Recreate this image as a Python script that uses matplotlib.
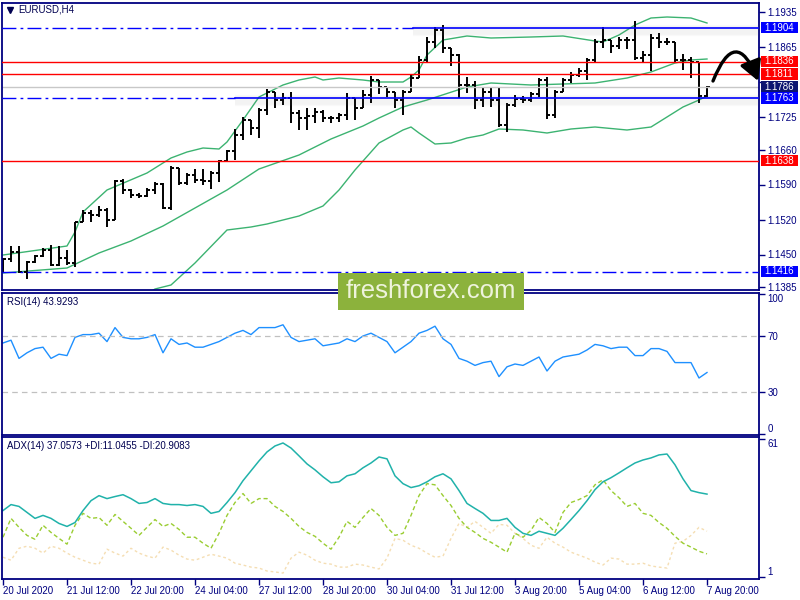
import numpy as np
import matplotlib
matplotlib.use("Agg")
import matplotlib.pyplot as plt
from matplotlib.collections import LineCollection
from matplotlib.patches import Rectangle, FancyArrowPatch
from matplotlib.lines import Line2D
from matplotlib.transforms import blended_transform_factory, offset_copy

plt.rcParams['font.family'] = ['Liberation Sans', 'DejaVu Sans']
plt.rcParams['lines.scale_dashes'] = False

symbol = "EURUSD,H4"

# H4 bars, 20 Jul 04:00 .. 7 Aug 20:00 (index 0..88)
opens = [1.1423, 1.1441, 1.1455, 1.1415, 1.1435, 1.1447, 1.1459, 1.1429, 1.1443, 1.1433,
         1.1515, 1.1533, 1.1529, 1.1539, 1.1519, 1.1597, 1.1579, 1.1569, 1.1567, 1.1579,
         1.1591, 1.1543, 1.1623, 1.1593, 1.1609, 1.1599, 1.1597, 1.1613, 1.1637, 1.1657,
         1.1689, 1.1719, 1.1703, 1.1739, 1.1775, 1.1759, 1.1763, 1.1733, 1.1723, 1.1727,
         1.1735, 1.1723, 1.1723, 1.1729, 1.1763, 1.1743, 1.1769, 1.1799, 1.1785, 1.1775,
         1.1759, 1.1775, 1.1803, 1.1839, 1.1875, 1.1899, 1.1863, 1.1849, 1.1789, 1.1789,
         1.1759, 1.1775, 1.1759, 1.1709, 1.1749, 1.1761, 1.1759, 1.1771, 1.1799, 1.1729,
         1.1775, 1.1799, 1.1809, 1.1817, 1.1839, 1.1875, 1.1879, 1.1867, 1.1879, 1.1879,
         1.1843, 1.1849, 1.1883, 1.1875, 1.1875, 1.1839, 1.1839, 1.1835, 1.1767]
highs = [1.1443, 1.1467, 1.1467, 1.1437, 1.1449, 1.1463, 1.1469, 1.1467, 1.1459, 1.1515,
         1.1539, 1.1539, 1.1547, 1.1543, 1.1599, 1.1601, 1.1581, 1.1573, 1.1583, 1.1595,
         1.1593, 1.1627, 1.1623, 1.1613, 1.1621, 1.1621, 1.1617, 1.1639, 1.1659, 1.1701,
         1.1725, 1.1719, 1.1743, 1.1781, 1.1775, 1.1773, 1.1775, 1.1739, 1.1743, 1.1743,
         1.1739, 1.1727, 1.1733, 1.1773, 1.1763, 1.1779, 1.1807, 1.1799, 1.1785, 1.1775,
         1.1779, 1.1809, 1.1847, 1.1885, 1.1905, 1.1909, 1.1863, 1.1851, 1.1805, 1.1797,
         1.1783, 1.1783, 1.1783, 1.1753, 1.1769, 1.1767, 1.1775, 1.1803, 1.1805, 1.1779,
         1.1803, 1.1815, 1.1823, 1.1843, 1.1881, 1.1905, 1.1879, 1.1885, 1.1885, 1.1917,
         1.1857, 1.1891, 1.1893, 1.1883, 1.1875, 1.1851, 1.1845, 1.1835, 1.1787]
lows = [1.1413, 1.1435, 1.1413, 1.1401, 1.1433, 1.1445, 1.1427, 1.1427, 1.1429, 1.1425,
        1.1515, 1.1515, 1.1525, 1.1505, 1.1519, 1.1571, 1.1563, 1.1563, 1.1565, 1.1571,
        1.1541, 1.1539, 1.1589, 1.1589, 1.1593, 1.1589, 1.1581, 1.1595, 1.1635, 1.1639,
        1.1679, 1.1689, 1.1683, 1.1729, 1.1743, 1.1749, 1.1713, 1.1699, 1.1699, 1.1713,
        1.1715, 1.1713, 1.1715, 1.1719, 1.1719, 1.1743, 1.1753, 1.1771, 1.1765, 1.1743,
        1.1729, 1.1775, 1.1803, 1.1835, 1.1863, 1.1853, 1.1827, 1.1763, 1.1773, 1.1741,
        1.1745, 1.1745, 1.1705, 1.1695, 1.1745, 1.1753, 1.1755, 1.1765, 1.1721, 1.1723,
        1.1775, 1.1793, 1.1805, 1.1799, 1.1833, 1.1863, 1.1853, 1.1861, 1.1861, 1.1839,
        1.1833, 1.1817, 1.1863, 1.1869, 1.1833, 1.1819, 1.1803, 1.1753, 1.1765]
closes = [1.1441, 1.1455, 1.1415, 1.1435, 1.1447, 1.1459, 1.1429, 1.1443, 1.1433, 1.1515,
          1.1533, 1.1529, 1.1539, 1.1519, 1.1597, 1.1579, 1.1569, 1.1567, 1.1579, 1.1591,
          1.1543, 1.1623, 1.1593, 1.1609, 1.1599, 1.1597, 1.1613, 1.1637, 1.1657, 1.1689,
          1.1719, 1.1703, 1.1739, 1.1775, 1.1759, 1.1763, 1.1733, 1.1723, 1.1727, 1.1735,
          1.1723, 1.1723, 1.1729, 1.1763, 1.1743, 1.1769, 1.1799, 1.1785, 1.1775, 1.1759,
          1.1775, 1.1803, 1.1839, 1.1875, 1.1899, 1.1863, 1.1849, 1.1789, 1.1789, 1.1759,
          1.1775, 1.1759, 1.1709, 1.1749, 1.1761, 1.1759, 1.1771, 1.1799, 1.1729, 1.1775,
          1.1799, 1.1809, 1.1817, 1.1839, 1.1875, 1.1879, 1.1867, 1.1879, 1.1879, 1.1843,
          1.1849, 1.1883, 1.1875, 1.1875, 1.1839, 1.1839, 1.1835, 1.1767, 1.1786]

# Bollinger bands, read at some bars
bb_up_idx = [0, 8, 9, 10, 13, 18, 21, 23, 25, 27, 28, 30, 32, 35, 37, 39, 40, 42, 45, 47,
             50, 51, 52, 53, 55, 58, 61, 66, 70, 74, 75, 77, 79, 81, 83, 86, 88]
bb_up = [1.1449, 1.1467, 1.1495, 1.1535, 1.1579, 1.1613, 1.1643, 1.1655, 1.1663, 1.1661,
         1.1675, 1.1719, 1.1765, 1.1789, 1.1799, 1.1805, 1.1799, 1.1803, 1.1799, 1.1795,
         1.1795, 1.1805, 1.1819, 1.1849, 1.1879, 1.1887, 1.1883, 1.1885, 1.1887, 1.1877,
         1.1875, 1.1889, 1.1909, 1.1923, 1.1925, 1.1923, 1.1913]
bb_mid_idx = [0, 8, 12, 16, 20, 24, 28, 32, 37, 41, 45, 47, 50, 53, 58, 61, 66, 70, 74,
              78, 81, 84, 86, 88]
bb_mid = [1.1413, 1.1423, 1.1453, 1.1477, 1.1507, 1.1543, 1.1579, 1.1621, 1.1649, 1.1681,
          1.1707, 1.1723, 1.1745, 1.1759, 1.1785, 1.1793, 1.1789, 1.1791, 1.1793, 1.1803,
          1.1815, 1.1833, 1.1839, 1.1841]
bb_low_idx = [17, 19, 21, 24, 28, 31, 33, 37, 40, 42, 44, 47, 50, 51, 52, 54, 56, 58, 60,
              62, 65, 68, 71, 74, 78, 81, 83, 85, 87, 88]
bb_low = [1.1360, 1.1381, 1.1389, 1.1433, 1.1499, 1.1505, 1.1511, 1.1527, 1.1547, 1.1579,
          1.1619, 1.1673, 1.1699, 1.1705, 1.1693, 1.1671, 1.1673, 1.1683, 1.1689, 1.1701,
          1.1699, 1.1693, 1.1701, 1.1705, 1.1699, 1.1705, 1.1725, 1.1745, 1.1759, 1.1767]

rsi = [65, 67, 54, 58, 61, 62, 54, 57, 56, 69,
       71, 71, 72, 66, 76, 69, 68, 68, 69, 71,
       58, 68, 64, 65, 62, 62, 64, 66, 69, 72,
       74, 71, 76, 76, 76, 78, 69, 66, 67, 68,
       63, 64, 65, 68, 66, 70, 72, 69, 66, 58,
       62, 66, 72, 74, 77, 68, 64, 54, 52, 49,
       51, 52, 41, 48, 50, 49, 52, 55, 45, 52,
       55, 56, 57, 60, 64, 63, 61, 62, 62, 56,
       56, 61, 61, 59, 51, 51, 51, 40, 43.93]

adx = [29.9, 32.5, 31.7, 29.1, 26.5, 27.8, 26.5, 24.3, 23.0, 24.7,
       29.9, 34.2, 36.4, 35.1, 36.0, 36.8, 35.1, 33.0, 33.4, 35.1,
       33.0, 32.5, 32.5, 32.1, 32.5, 31.7, 28.7, 29.5, 33.4, 37.7,
       42.9, 47.2, 51.5, 55.4, 58.0, 59.3, 57.1, 53.7, 50.2, 47.6,
       44.6, 42.0, 42.4, 45.0, 45.9, 48.5, 50.6, 53.2, 52.4, 45.0,
       41.6, 39.9, 40.7, 42.4, 44.6, 45.9, 43.7, 38.6, 33.0, 30.8,
       28.7, 25.6, 25.6, 26.5, 22.6, 20.0, 19.1, 20.9, 20.0, 19.1,
       22.2, 26.0, 29.9, 34.2, 39.0, 42.4, 44.2, 46.3, 48.5, 50.6,
       51.9, 52.8, 54.1, 54.5, 49.8, 43.7, 38.6, 37.7, 37.06]
plus_di = [18.3, 26.5, 22.6, 19.1, 17.4, 23.5, 20.4, 17.8, 15.3, 23.5,
           28.7, 26.5, 26.9, 23.5, 28.2, 25.2, 22.2, 19.1, 22.6, 26.0,
           23.0, 24.3, 21.7, 18.3, 18.3, 15.7, 13.5, 20.0, 27.8, 33.4,
           37.3, 33.0, 35.1, 35.1, 31.7, 29.5, 26.5, 23.0, 20.4, 18.7,
           15.7, 13.1, 18.3, 25.2, 22.6, 26.9, 30.8, 27.8, 22.6, 19.1,
           20.0, 27.8, 36.4, 41.6, 41.1, 36.4, 32.1, 26.5, 22.6, 20.4,
           17.8, 16.1, 14.0, 11.8, 20.0, 18.3, 21.3, 26.9, 24.3, 20.4,
           29.1, 33.4, 34.7, 36.4, 41.1, 43.3, 38.6, 35.5, 31.7, 33.0,
           28.7, 27.8, 24.7, 22.2, 18.7, 15.7, 14.0, 12.2, 11.05]
minus_di = [9.6, 8.3, 13.5, 14.4, 13.5, 11.4, 14.4, 13.5, 11.4, 9.6,
            8.3, 7.0, 6.6, 13.1, 11.4, 10.1, 13.5, 11.4, 10.1, 9.2,
            14.0, 12.7, 10.5, 8.8, 8.3, 9.6, 10.9, 10.1, 9.2, 7.0,
            6.2, 5.3, 4.9, 3.6, 3.2, 2.7, 9.2, 11.8, 10.5, 8.3,
            7.0, 6.6, 5.3, 5.3, 6.6, 6.2, 5.3, 4.5, 9.2, 17.8,
            17.0, 14.8, 13.5, 11.4, 9.6, 10.1, 17.8, 24.3, 22.6, 25.2,
            22.6, 20.0, 23.9, 23.5, 20.0, 17.8, 14.8, 13.5, 18.3, 15.7,
            14.0, 11.8, 10.5, 9.2, 7.5, 6.2, 9.2, 8.8, 6.6, 6.6,
            7.0, 5.8, 5.3, 4.9, 15.7, 16.5, 19.1, 22.6, 20.91]

date_idx = [0, 8, 16, 24, 32, 40, 48, 56, 64, 72, 80, 88]
date_labels = ['20 Jul 2020', '21 Jul 12:00', '22 Jul 20:00', '24 Jul 04:00',
               '27 Jul 12:00', '28 Jul 20:00', '30 Jul 04:00', '31 Jul 12:00',
               '3 Aug 20:00', '5 Aug 04:00', '6 Aug 12:00', '7 Aug 20:00']
price_ticks = [1.1935, 1.1865, 1.1795, 1.1725, 1.1660, 1.1590, 1.1520, 1.1450, 1.1385]

# drawn levels
red_levels = [1.1836, 1.1811, 1.1638]
blue_levels = [1.1904, 1.1763, 1.1416]
blue_solid_from = [51.25, 29.0, None]   # bar where the solid part of the line starts
last_price = 1.1786

navy = '#000080'
W, H = 800., 600.


def box(x0, y0, x1, y1):
    # pixel rectangle (from top-left) -> figure fraction
    return [x0 / W, 1 - y1 / H, (x1 - x0) / W, (y1 - y0) / H]


fig = plt.figure(figsize=(8, 6), dpi=100)
ax = fig.add_axes(box(2, 3, 759, 290))
ax_rsi = fig.add_axes(box(2, 293, 759, 435))
ax_adx = fig.add_axes(box(2, 437, 759, 579))

for a in (ax, ax_rsi, ax_adx):
    a.set_xlim(-0.125, 94.5)
    for s in a.spines.values():
        s.set_color(navy)
        s.set_linewidth(1.3)
    a.yaxis.tick_right()
    a.tick_params(axis='y', direction='out', length=4, width=1, color=navy,
                  labelcolor=navy, labelsize=7, pad=2)
    a.tick_params(axis='x', bottom=False, labelbottom=False)

# ---- price panel
ax.set_ylim(1.1379, 1.1953)
ax.set_yticks(price_ticks)
# 1.1795 sits behind the price tags, so its text is left out
ax.set_yticklabels(['' if p == 1.1795 else '%.4f' % p for p in price_ticks])

ax.plot(bb_up_idx, bb_up, color='#3CB371', lw=1.0, zorder=1.5)
ax.plot(bb_mid_idx, bb_mid, color='#3CB371', lw=1.0, zorder=1.5)
ax.plot(bb_low_idx, bb_low, color='#3CB371', lw=1.0, zorder=1.5)

segs = []
for i in range(len(opens)):
    segs.append([(i, lows[i]), (i, highs[i])])
    segs.append([(i - 0.42, opens[i]), (i, opens[i])])
    segs.append([(i, closes[i]), (i + 0.42, closes[i])])
ax.add_collection(LineCollection(segs, colors='black', linewidths=1.4, zorder=2))

ax.axhline(last_price, color='#c8c8c8', lw=1.0, zorder=2.5)
for lvl in red_levels:
    ax.axhline(lvl, color='red', lw=1.0, zorder=3)

dashdot = (0, (10, 3, 2, 3))
for lvl, start in zip(blue_levels, blue_solid_from):
    if start is None:
        ax.axhline(lvl, color='#0000ff', lw=1.0, ls=dashdot, zorder=3)
        continue
    ax.plot([-0.125, start], [lvl, lvl], color='#0000ff', lw=1.0, ls=dashdot, zorder=3)
    # soft shadow round the trend line
    for k in range(-2, 8):
        tr_off = offset_copy(ax.transData, fig=fig, x=0, y=-k, units='dots')
        ax.plot([start, 94.5], [lvl, lvl], color='gray', alpha=0.035, lw=1.6,
                transform=tr_off, solid_capstyle='butt', zorder=2.6)
    ax.plot([start, 94.5], [lvl, lvl], color='#0000ff', lw=1.2, zorder=3)

# price tags on the scale
tags = [1.1904, 1.1836, 1.1811, 1.1786, 1.1763, 1.1638, 1.1416]
tag_colors = {1.1904: '#0000ff', 1.1836: '#ff0000', 1.1811: '#ff0000', 1.1786: '#0c1470',
              1.1763: '#0000ff', 1.1638: '#ff0000', 1.1416: '#0000ff'}
tr = blended_transform_factory(fig.transFigure, ax.transData)
for p in tags:
    ax.add_patch(Rectangle((761 / W, p - 0.00118), 37 / W, 0.00236, transform=tr,
                           fc=tag_colors[p], ec='none', clip_on=False, zorder=5))
    ax.text(764 / W, p, '%.4f' % p, transform=tr, color='white', fontsize=7,
            va='center', ha='left', clip_on=False, zorder=6)

# forecast arrow
arr = FancyArrowPatch((88.75, 1.1797), (94.4, 1.1797), connectionstyle='arc3,rad=-1.25',
                      arrowstyle='-|>,head_length=1.0,head_width=0.55', mutation_scale=12,
                      shrinkA=0, shrinkB=0, lw=2.4, color='black', clip_on=False, zorder=8)
ax.add_patch(arr)

# ---- RSI panel
x = np.arange(len(rsi))
ax_rsi.set_ylim(-0.7, 100.7)
ax_rsi.plot(x, rsi, color='#1E90FF', lw=1.0)
for lvl in (70, 30):
    ax_rsi.axhline(lvl, color='#c0c0c0', lw=0.9, ls=(0, (4, 3)))
ax_rsi.set_yticks([100, 70, 30, 0])
ax_rsi.set_yticklabels(['100', '70', '30', '0'])
labs = ax_rsi.get_yticklabels()
labs[0].set_va('top')
labs[3].set_va('bottom')

# ---- ADX panel
ax_adx.set_ylim(0.13, 61.9)
ax_adx.plot(x, minus_di, color='#F5DEB3', lw=1.0, ls=(0, (2, 2)))
ax_adx.plot(x, plus_di, color='#9ACD32', lw=1.0, ls=(0, (3, 2)))
ax_adx.plot(x, adx, color='#20B2AA', lw=1.1)
ax_adx.set_yticks([61, 1])
ax_adx.set_yticklabels(['61', '1'])
labs = ax_adx.get_yticklabels()
labs[0].set_va('top')
labs[1].set_va('bottom')
ax_adx.set_xticks(date_idx)
ax_adx.set_xticklabels(date_labels, ha='left')
ax_adx.tick_params(axis='x', bottom=True, labelbottom=True, direction='out', length=4,
                   width=1, color=navy, labelcolor=navy, labelsize=7, pad=1)

# ---- texts
fig.add_artist(Line2D([9.5 / W], [1 - 10 / H], marker='v', markersize=5, color='#000050',
                      transform=fig.transFigure))
fig.text(18 / W, 1 - 10 / H, symbol, fontsize=7, color='#000050', va='center')
fig.text(7 / W, 1 - 302 / H, 'RSI(14) 43.9293', fontsize=7, color='#000050', va='center')
fig.text(7 / W, 1 - 446 / H, 'ADX(14) 37.0573 +DI:11.0455 -DI:20.9083', fontsize=7,
         color='#000050', va='center')

# watermark
fig.add_artist(Rectangle((338 / W, 1 - 310 / H), 186 / W, 37 / H, transform=fig.transFigure,
                         fc='#8cb23c', ec='none', zorder=20))
fig.text(431 / W, 1 - 291 / H, 'freshforex.com', ha='center', va='center', fontsize=18.5,
         color='#eef3dc', zorder=21)

fig.savefig('out.png', dpi=100)
